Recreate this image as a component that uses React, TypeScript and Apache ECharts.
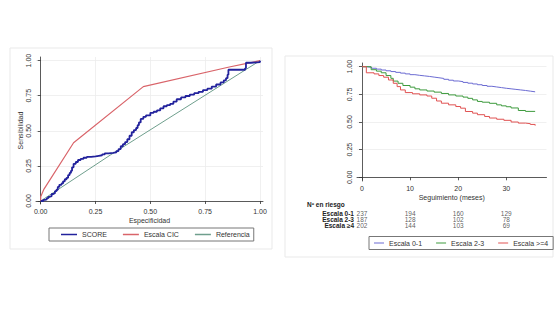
import React, { useEffect, useRef } from "react";
import * as echarts from "echarts";

// ---------- ROC panel data ----------
const rocTicks = [0, 0.25, 0.5, 0.75, 1];
const rocNames = ["SCORE", "Escala CIC", "Referencia"];
const scoreCurve: [number, number][] = [
  [0, 0], [0.012, 0.008], [0.02, 0.012], [0.028, 0.02], [0.035, 0.03], [0.042, 0.035],
  [0.05, 0.05], [0.058, 0.055], [0.065, 0.07], [0.072, 0.08], [0.078, 0.1], [0.085, 0.115],
  [0.095, 0.125], [0.102, 0.14], [0.11, 0.155], [0.118, 0.165], [0.125, 0.185], [0.132, 0.2],
  [0.138, 0.215], [0.143, 0.24], [0.15, 0.265], [0.16, 0.278], [0.17, 0.292], [0.182, 0.3],
  [0.195, 0.308], [0.21, 0.314], [0.23, 0.318], [0.25, 0.322], [0.265, 0.326], [0.28, 0.332],
  [0.292, 0.34], [0.31, 0.343], [0.33, 0.346], [0.345, 0.356], [0.355, 0.37], [0.365, 0.39],
  [0.375, 0.405], [0.385, 0.42], [0.395, 0.44], [0.405, 0.465], [0.415, 0.49], [0.425, 0.505],
  [0.435, 0.52], [0.442, 0.54], [0.448, 0.56], [0.456, 0.585], [0.468, 0.6], [0.48, 0.61],
  [0.5, 0.628], [0.515, 0.636], [0.53, 0.645], [0.545, 0.66], [0.56, 0.675], [0.575, 0.683],
  [0.59, 0.692], [0.605, 0.708], [0.62, 0.725], [0.64, 0.738], [0.66, 0.748], [0.68, 0.758],
  [0.7, 0.768], [0.72, 0.778], [0.74, 0.79], [0.76, 0.8], [0.78, 0.815], [0.8, 0.83],
  [0.82, 0.845], [0.835, 0.86], [0.845, 0.875], [0.852, 0.9], [0.856, 0.935], [0.925, 0.935],
  [0.932, 0.945], [0.936, 0.985], [0.96, 0.99], [1, 1],
];
const cicCurve: [number, number][] = [
  [0, 0], [0, 0.03], [0.015, 0.085], [0.15, 0.415], [0.468, 0.815], [0.86, 0.955], [0.94, 0.98], [1, 1],
];
const referenceCurve: [number, number][] = [[0, 0], [0.32, 0.33], [1, 1]];

// ---------- Kaplan-Meier panel data ----------
const monthTicks = [0, 10, 20, 30];
const survTicks = [0, 0.25, 0.5, 0.75, 1];
const kmNames = ["Escala 0-1", "Escala 2-3", "Escala >=4"];
const km01: [number, number][] = [
  [0, 1], [1, 0.994], [2, 0.986], [3, 0.978], [4, 0.97], [5, 0.963], [6, 0.956], [7, 0.949],
  [8, 0.942], [9, 0.935], [10, 0.928], [11, 0.922], [12, 0.917], [13, 0.912], [14, 0.906],
  [15, 0.9], [16, 0.894], [17, 0.886], [18, 0.878], [19, 0.871], [20, 0.865], [21, 0.858],
  [22, 0.851], [23, 0.844], [24, 0.837], [25, 0.83], [26, 0.823], [27, 0.817], [28, 0.811],
  [29, 0.805], [30, 0.8], [31, 0.795], [32, 0.79], [33, 0.785], [34, 0.779], [35, 0.773], [36, 0.767],
];
const km23: [number, number][] = [
  [0, 1], [1.9, 0.973], [3, 0.96], [4, 0.945], [5, 0.92], [6, 0.895], [6.5, 0.87], [7.5, 0.85],
  [8.5, 0.83], [10, 0.815], [11, 0.8], [12, 0.79], [13.5, 0.78], [15, 0.77], [16.5, 0.758],
  [18, 0.745], [19.5, 0.735], [21, 0.725], [22, 0.714], [23, 0.7], [24, 0.686], [25, 0.679],
  [26.5, 0.669], [28, 0.655], [29, 0.646], [30, 0.638], [31, 0.627], [32.5, 0.604], [34, 0.596], [36, 0.59],
];
const km4: [number, number][] = [
  [0, 1], [0.9, 0.945], [2.5, 0.935], [3.5, 0.92], [4.5, 0.905], [5.5, 0.88], [6.5, 0.85],
  [7.3, 0.82], [8, 0.79], [9, 0.766], [10.5, 0.755], [12, 0.745], [13.5, 0.735], [14.5, 0.715],
  [15.5, 0.69], [16.5, 0.67], [18, 0.655], [19.5, 0.64], [20.5, 0.625], [21.5, 0.595],
  [23, 0.58], [24, 0.566], [25.5, 0.55], [26.5, 0.536], [28, 0.525], [29.5, 0.515], [31, 0.5],
  [32.5, 0.49], [34, 0.485], [35, 0.478], [36, 0.467],
];

// ---------- Number-at-risk table ----------
const riskRows = ["Escala 0-1", "Escala 2-3", "Escala \u22654"];
const riskMonths = [0, 10, 20, 30];
const risk01 = [237, 194, 160, 129];
const risk23 = [187, 128, 102, 78];
const risk4 = [202, 144, 103, 69];

const FONT = "'Liberation Sans', Arial, Helvetica, sans-serif";
const NARROW = "'Liberation Sans Narrow', 'Arial Narrow', 'Liberation Sans', sans-serif";
const AXIS = "#333";
const GRIDC = "#ececec";

function buildOption() {
  const fmt2 = (v: number) => v.toFixed(2);
  const riskSeries = [risk01, risk23, risk4].map((counts, row) => ({
    type: "scatter",
    xAxisIndex: 2,
    yAxisIndex: 2,
    symbolSize: 1,
    itemStyle: { color: "rgba(0,0,0,0)" },
    silent: true,
    label: {
      show: true,
      position: "inside",
      formatter: (p: any) => String(p.value[2]),
      fontSize: 6.5,
      fontFamily: FONT,
      color: "#333",
      textBorderWidth: 0,
      textBorderColor: "transparent",
    },
    data: riskMonths.map((m, i) => [m, row, counts[i]]),
  }));

  return {
    animation: false,
    backgroundColor: "#fff",
    textStyle: { fontFamily: FONT },
    graphic: [
      { type: "rect", shape: { x: 10, y: 48, width: 262, height: 201 }, style: { fill: "none", stroke: "#e9e9e9", lineWidth: 1 }, silent: true },
      { type: "rect", shape: { x: 285, y: 56, width: 268, height: 201 }, style: { fill: "none", stroke: "#e9e9e9", lineWidth: 1 }, silent: true },
      { type: "text", left: 307, top: 201, style: { text: "N\u00ba en riesgo", fontSize: 6.5, fontWeight: "bold", fontFamily: NARROW, fill: "#222" } },
    ],
    legend: [
      {
        data: rocNames,
        left: 49,
        top: 228,
        orient: "horizontal",
        icon: "rect",
        itemWidth: 16,
        itemHeight: 1.5,
        itemGap: 16,
        padding: [3, 4, 3, 12],
        borderColor: "#777",
        borderWidth: 1,
        textStyle: { fontSize: 7, color: "#333", fontFamily: FONT },
      },
      {
        data: kmNames,
        left: 369,
        top: 236.5,
        orient: "horizontal",
        icon: "rect",
        itemWidth: 10,
        itemHeight: 1,
        itemGap: 14,
        padding: [3, 5, 3, 5],
        borderColor: "#777",
        borderWidth: 1,
        textStyle: { fontSize: 7, color: "#333", fontFamily: FONT },
      },
    ],
    grid: [
      { left: 36, top: 57, width: 227, height: 147 },
      { left: 357, top: 63, width: 189.5, height: 118 },
      { left: 357, top: 210.3, width: 189.5, height: 17.7 },
    ],
    xAxis: [
      {
        gridIndex: 0,
        type: "value",
        min: -0.0214,
        max: 1.0137,
        name: "Especificidad",
        nameLocation: "middle",
        nameGap: 13,
        nameTextStyle: { fontSize: 7, color: AXIS },
        axisLine: { show: true, lineStyle: { color: AXIS, width: 0.8 } },
        axisTick: { show: true, customValues: rocTicks, length: 3, lineStyle: { color: AXIS, width: 0.8 } },
        axisLabel: { customValues: rocTicks, formatter: fmt2, fontSize: 7, color: AXIS, margin: 4 },
        splitLine: { show: true, lineStyle: { color: GRIDC, width: 0.8 } },
      },
      {
        gridIndex: 1,
        type: "value",
        min: -1.04,
        max: 38.36,
        name: "Seguimiento (meses)",
        nameLocation: "middle",
        nameGap: 13,
        nameTextStyle: { fontSize: 7, color: AXIS },
        axisLine: { show: true, lineStyle: { color: AXIS, width: 0.8 } },
        axisTick: { show: true, customValues: monthTicks, length: 3, lineStyle: { color: AXIS, width: 0.8 } },
        axisLabel: { customValues: monthTicks, fontSize: 7, color: AXIS, margin: 4 },
        splitLine: { show: false },
      },
      {
        gridIndex: 2,
        type: "value",
        min: -1.04,
        max: 38.36,
        show: false,
      },
    ],
    yAxis: [
      {
        gridIndex: 0,
        type: "value",
        min: -0.0214,
        max: 1.026,
        name: "Sensibilidad",
        nameLocation: "middle",
        nameGap: 11,
        nameTextStyle: { fontSize: 7, color: AXIS },
        axisLine: { show: true, lineStyle: { color: AXIS, width: 0.8 } },
        axisTick: { show: true, customValues: rocTicks, length: 3, lineStyle: { color: AXIS, width: 0.8 } },
        axisLabel: { customValues: rocTicks, formatter: fmt2, fontSize: 7, color: AXIS, margin: 4, rotate: 90 },
        splitLine: { show: true, lineStyle: { color: GRIDC, width: 0.8 } },
      },
      {
        gridIndex: 1,
        type: "value",
        min: -0.0335,
        max: 1.0335,
        axisLine: { show: true, lineStyle: { color: AXIS, width: 0.8 } },
        axisTick: { show: true, customValues: survTicks, length: 3, lineStyle: { color: AXIS, width: 0.8 } },
        axisLabel: { customValues: survTicks, formatter: fmt2, fontSize: 7, color: AXIS, margin: 4, rotate: 90 },
        splitLine: { show: true, lineStyle: { color: GRIDC, width: 0.8 } },
      },
      {
        gridIndex: 2,
        type: "category",
        data: riskRows,
        inverse: true,
        axisLine: { show: false },
        axisTick: { show: false },
        splitLine: { show: false },
        axisLabel: { interval: 0, fontSize: 6.5, fontWeight: "bold", fontFamily: NARROW, color: "#222", margin: 3 },
      },
    ],
    series: [
      {
        name: "Referencia",
        type: "line",
        xAxisIndex: 0,
        yAxisIndex: 0,
        data: referenceCurve,
        showSymbol: false,
        symbol: "none",
        lineStyle: { color: "#6f9f8d", width: 1 },
        itemStyle: { color: "#6f9f8d" },
      },
      {
        name: "Escala CIC",
        type: "line",
        xAxisIndex: 0,
        yAxisIndex: 0,
        data: cicCurve,
        showSymbol: false,
        symbol: "none",
        lineStyle: { color: "#d9646a", width: 1.2 },
        itemStyle: { color: "#d9646a" },
      },
      {
        name: "SCORE",
        type: "line",
        xAxisIndex: 0,
        yAxisIndex: 0,
        data: scoreCurve,
        step: "end",
        showSymbol: false,
        symbol: "none",
        lineStyle: { color: "#22229c", width: 1.8 },
        itemStyle: { color: "#22229c" },
      },
      {
        name: "Escala 0-1",
        type: "line",
        xAxisIndex: 1,
        yAxisIndex: 1,
        data: km01,
        step: "end",
        showSymbol: false,
        symbol: "none",
        lineStyle: { color: "#6b6bd2", width: 1 },
        itemStyle: { color: "#6b6bd2" },
      },
      {
        name: "Escala 2-3",
        type: "line",
        xAxisIndex: 1,
        yAxisIndex: 1,
        data: km23,
        step: "end",
        showSymbol: false,
        symbol: "none",
        lineStyle: { color: "#3d9a3d", width: 1 },
        itemStyle: { color: "#3d9a3d" },
      },
      {
        name: "Escala >=4",
        type: "line",
        xAxisIndex: 1,
        yAxisIndex: 1,
        data: km4,
        step: "end",
        showSymbol: false,
        symbol: "none",
        lineStyle: { color: "#e05252", width: 1 },
        itemStyle: { color: "#e05252" },
      },
      ...riskSeries,
    ],
  };
}

export default function App() {
  const ref = useRef<HTMLDivElement>(null);
  useEffect(() => {
    if (!ref.current) return;
    const chart = echarts.init(ref.current, null, { renderer: "svg" });
    chart.setOption(buildOption() as any);
    return () => chart.dispose();
  }, []);
  return (
    <div
      ref={ref}
      style={{ position: "absolute", left: 0, top: 0, width: 560, height: 316, background: "#fff" }}
    />
  );
}
